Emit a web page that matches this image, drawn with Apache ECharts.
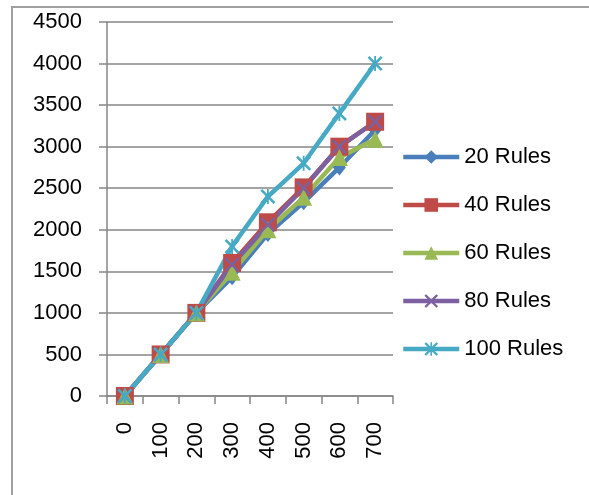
<!DOCTYPE html>
<html><head><meta charset="utf-8">
<script src="https://cdn.jsdelivr.net/npm/echarts@6/dist/echarts.min.js"></script>
<style>html,body{margin:0;padding:0;background:#fff}#c{width:589px;height:495px}</style>
</head><body><div id="c"></div>
<script>
const categories = ['0','100','200','300','400','500','600','700'];
const rules20 = [0,500,1000,1430,1950,2330,2750,3200];
const rules40 = [0,500,1000,1600,2090,2510,3000,3300];
const rules60 = [0,500,1000,1490,2000,2390,2870,3090];
const rules80 = [0,500,1000,1580,2060,2500,3000,3300];
const rules100 = [0,500,1000,1800,2400,2800,3400,4000];
const seriesNames = ['20 Rules','40 Rules','60 Rules','80 Rules','100 Rules'];

const XPATH = 'path://M0,1.2 L1.2,0 L5,3.8 L8.8,0 L10,1.2 L6.2,5 L10,8.8 L8.8,10 L5,6.2 L1.2,10 L0,8.8 L3.8,5 Z';
const STAR = 'path://M0,1.2 L1.2,0 L5,3.8 L8.8,0 L10,1.2 L6.2,5 L10,8.8 L8.8,10 L5,6.2 L1.2,10 L0,8.8 L3.8,5 Z M4.4,0 L5.6,0 L5.6,10 L4.4,10 Z';

const font = 'Liberation Sans';
function mk(name, data, color, symbol, size){
  return {name, type:'line', data, symbol, symbolSize:size, showAllSymbol:true,
    lineStyle:{color, width:4.5}, itemStyle:{color, borderWidth:0}, emphasis:{disabled:true}, animation:false};
}
const chart = echarts.init(document.getElementById('c'));
chart.setOption({
  animation:false,
  graphic:[{type:'rect', shape:{x:12, y:7, width:700, height:600}, style:{fill:'none', stroke:'#a0a0a0', lineWidth:2}, z:-1}],
  grid:{left:107, right:196, top:22, bottom:99},
  legend:{orient:'vertical', left:396, top:141, itemWidth:56, itemHeight:17, itemGap:26,
    lineStyle:{width:4.5}, itemStyle:{borderWidth:0},
    textStyle:{fontFamily:font, fontSize:22, color:'#000', lineHeight:17},
    data:seriesNames},
  xAxis:{type:'category', data:categories, boundaryGap:true,
    axisLine:{lineStyle:{color:'#868686', width:1.5}},
    axisTick:{show:true, length:8, interval:0, lineStyle:{color:'#868686', width:1.5}},
    axisLabel:{rotate:90, margin:26, interval:0, fontFamily:font, fontSize:22, color:'#000'}},
  yAxis:{type:'value', min:0, max:4500, interval:500,
    axisLine:{show:true, lineStyle:{color:'#868686', width:1.5}},
    axisTick:{show:true, length:8, lineStyle:{color:'#868686', width:1.5}},
    splitLine:{lineStyle:{color:'#868686', width:1.5}},
    axisLabel:{margin:25, fontFamily:font, fontSize:22, color:'#000', formatter:v=>String(v)}},
  series:[
    mk(seriesNames[0], rules20, '#4a7ebb', 'diamond', [13,16]),
    mk(seriesNames[1], rules40, '#be4b48', 'rect', 18),
    mk(seriesNames[2], rules60, '#98b954', 'triangle', 17),
    mk(seriesNames[3], rules80, '#7d60a0', XPATH, 15),
    mk(seriesNames[4], rules100, '#46aac5', STAR, 15)
  ]
});
</script></body></html>
